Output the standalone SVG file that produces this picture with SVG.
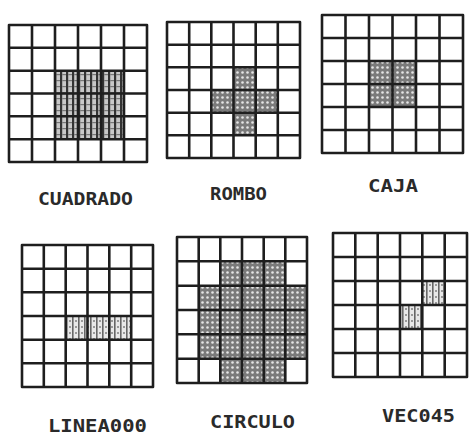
<svg xmlns="http://www.w3.org/2000/svg" width="471" height="437" viewBox="0 0 471 437">
<style>
.grid{fill:none;stroke:#1e1e1e;stroke-width:2.6;stroke-linejoin:round}
.lbl{font-family:"DejaVu Sans Mono","Liberation Mono",monospace;font-weight:bold;font-size:17px;fill:#2a2a2a}
.dense{fill:url(#dots)}
.hatch{fill:url(#vhatch)}
.light{fill:url(#light)}
</style>
<defs>
<pattern id="dots" width="5" height="5" patternUnits="userSpaceOnUse">
<rect width="5" height="5" fill="#7a7a7a"/>
<circle cx="2.5" cy="2.5" r="1.3" fill="#e6e6e6"/>
</pattern>
<pattern id="vhatch" width="6" height="6" patternUnits="userSpaceOnUse">
<rect width="6" height="6" fill="#c8c8c8"/>
<rect x="0" y="0" width="2.2" height="6" fill="#333"/>
<rect x="2.2" y="2" width="3.8" height="1.2" fill="#777"/>
</pattern>
<pattern id="light" width="6" height="6" patternUnits="userSpaceOnUse">
<rect width="6" height="6" fill="#e8e8e8"/>
<rect x="0" y="0" width="1.6" height="6" fill="#666"/>
<rect x="3" y="2" width="2" height="2" fill="#999"/>
</pattern>
</defs>

<g id="cuadrado">
<rect class="hatch" x="55" y="70.7" width="69" height="68.5"/>
<path class="grid" d="M9 25H147V162H9Z M32 25V162 M55 25V162 M78 25V162 M101 25V162 M124 25V162 M9 47.8H147 M9 70.7H147 M9 93.5H147 M9 116.3H147 M9 139.2H147"/>
<text class="lbl" x="38" y="205" textLength="95" lengthAdjust="spacingAndGlyphs">CUADRADO</text>
</g>

<g id="rombo">
<path class="dense" d="M233.5 67.3H255.7V90H277.8V112.7H255.7V135.3H233.5V112.7H211.3V90H233.5Z"/>
<path class="grid" d="M167 22H300V158H167Z M189.2 22V158 M211.3 22V158 M233.5 22V158 M255.7 22V158 M277.8 22V158 M167 44.7H300 M167 67.3H300 M167 90H300 M167 112.7H300 M167 135.3H300"/>
<text class="lbl" x="210" y="200" textLength="57" lengthAdjust="spacingAndGlyphs">ROMBO</text>
</g>

<g id="caja">
<rect class="dense" x="369" y="61" width="47" height="46"/>
<path class="grid" d="M322 15H463V153H322Z M345.5 15V153 M369 15V153 M392.5 15V153 M416 15V153 M439.5 15V153 M322 38H463 M322 61H463 M322 84H463 M322 107H463 M322 130H463"/>
<text class="lbl" x="368" y="192" textLength="50" lengthAdjust="spacingAndGlyphs">CAJA</text>
</g>

<g id="linea">
<rect class="light" x="65.7" y="316" width="65.5" height="23.7"/>
<path class="grid" d="M22 245H153V387H22Z M43.8 245V387 M65.7 245V387 M87.5 245V387 M109.3 245V387 M131.2 245V387 M22 268.7H153 M22 292.3H153 M22 316H153 M22 339.7H153 M22 363.3H153"/>
<text class="lbl" x="48" y="432" textLength="99" lengthAdjust="spacingAndGlyphs">LINEA000</text>
</g>

<g id="circulo">
<path class="dense" d="M220.3 261.3H285.3V285.7H307V358.7H285.3V383H220.3V358.7H198.7V285.7H220.3Z"/>
<path class="grid" d="M177 237H307V383H177Z M198.7 237V383 M220.3 237V383 M242 237V383 M263.7 237V383 M285.3 237V383 M177 261.3H307 M177 285.7H307 M177 310H307 M177 334.3H307 M177 358.7H307"/>
<text class="lbl" x="210" y="428" textLength="85" lengthAdjust="spacingAndGlyphs">CIRCULO</text>
</g>

<g id="vec045">
<rect class="light" x="400" y="305" width="22.3" height="24"/>
<rect class="light" x="422.3" y="281" width="22.4" height="24"/>
<path class="grid" d="M333 233H467V377H333Z M355.3 233V377 M377.7 233V377 M400 233V377 M422.3 233V377 M444.7 233V377 M333 257H467 M333 281H467 M333 305H467 M333 329H467 M333 353H467"/>
<text class="lbl" x="382" y="422" textLength="73" lengthAdjust="spacingAndGlyphs">VEC045</text>
</g>

<g id="connectors"/>
</svg>
